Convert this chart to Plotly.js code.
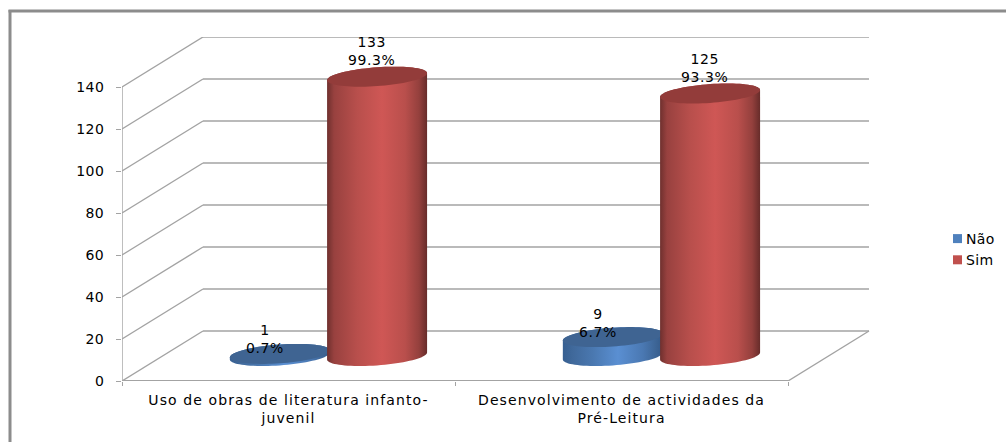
<!DOCTYPE html>
<html><head><meta charset="utf-8">
<script src="https://cdn.plot.ly/plotly-3.0.1.min.js"></script>
<style>
html,body{margin:0;padding:0;background:#fff;overflow:hidden}
.xtick text{letter-spacing:1.1px}
.ytick text{letter-spacing:.4px}
.annotation-text{letter-spacing:.6px}
.legendtext{letter-spacing:.4px}
g.legendpoints path{transform:translate(31.5px,0) scale(.75)}
</style>
</head><body><div id="chart" style="width:1006px;height:442px"></div>
<script>
// Data
const categories = ["Uso de obras de literatura infanto-<br>juvenil", "Desenvolvimento de actividades da<br>Pré-Leitura"];
const naoValues = [1, 9];
const simValues = [133, 125];
const naoPct = ["0.7%", "6.7%"];
const simPct = ["99.3%", "93.3%"];
const yTicks = [0, 20, 40, 60, 80, 100, 120, 140];

// Layout of the faux-3D box, in pixels
const W = 1006, H = 442, L = 122, R = 136, T = 37, B = 61;
const catPx = 333, valPx = 2.1, depthPxX = 81, depthPxY = 50;
const plotW = W - L - R, plotH = H - T - B;
const ux = 1 / catPx, uy = 1 / valPx;
const dX = depthPxX * ux, dY = depthPxY * uy;
const baseY = 25 * uy;                       // cylinders stand mid-way in the floor depth
const GRID = "#a3a3a3", FRAME = "#8c8c8c";
const px = v => (v - L) / plotW, py = v => 1 - (v - T) / plotH;

// Walls, floor and frame
const shapes = [];
const seg = (x0, y0, x1, y1, color, width) => ({type: "line", layer: "below", xref: "x", yref: "y", x0, y0, x1, y1, line: {color, width}});
yTicks.forEach(v => {
  shapes.push(seg(0, v, dX, v + dY, GRID, 1.4));
  shapes.push(seg(dX, v + dY, categories.length + dX, v + dY, GRID, 1.4));
});
shapes.push(seg(0, 0, 0, yTicks[yTicks.length - 1], GRID, 1.4));
shapes.push(seg(0, 0, categories.length, 0, GRID, 1.8));
shapes.push(seg(categories.length, 0, categories.length + dX, dY, GRID, 1.4));
shapes.push({type: "line", xref: "paper", yref: "paper", x0: px(8.5), x1: px(W), y0: py(11), y1: py(11), line: {color: FRAME, width: 3}});
shapes.push({type: "line", xref: "paper", yref: "paper", x0: px(10), x1: px(10), y0: py(10), y1: py(H), line: {color: FRAME, width: 3}});

// Cylinder geometry
const rx = 50 * ux, tiltY = 3.5 * uy, ry = 9.4 * uy;
function rim(cx, cy, from, to, n) {
  const xs = [], ys = [];
  for (let i = 0; i <= n; i++) {
    const t = from + (to - from) * i / n;
    xs.push(cx + rx * Math.cos(t));
    ys.push(cy + tiltY * Math.cos(t) + ry * Math.sin(t));
  }
  return [xs, ys];
}
function cylinder(cx, value, scale, topColor) {
  const top = baseY + value;
  const [bx, by] = rim(cx, baseY, Math.PI, 2 * Math.PI, 40);
  const [ux2, uy2] = rim(cx, top, 0, Math.PI, 40);
  const [tx, ty] = rim(cx, top, 0, 2 * Math.PI, 80);
  return [
    {type: "scatter", mode: "none", x: bx.concat(ux2), y: by.concat(uy2), fill: "toself",
     fillgradient: {type: "horizontal", colorscale: scale}, showlegend: false, hoverinfo: "skip"},
    {type: "scatter", mode: "none", x: tx, y: ty, fill: "toself", fillcolor: topColor, showlegend: false, hoverinfo: "skip"}
  ];
}
const redScale = [[0, "#6f302e"], [0.07, "#98413f"], [0.3, "#b84f4c"], [0.55, "#cf5755"], [0.78, "#b94f4c"], [0.92, "#94403d"], [1, "#672c2a"]];
const blueScale = [[0, "#365f91"], [0.1, "#40699b"], [0.3, "#4a78b0"], [0.55, "#5a8fd2"], [0.8, "#4a78b2"], [0.93, "#3d6596"], [1, "#335a8a"]];

const naoX = categories.map((c, i) => i + 0.5 - 0.026);
const simX = categories.map((c, i) => i + 0.5 + 0.266);

const data = [
  {type: "bar", name: "Não", legendgroup: "n", x: naoX, y: naoValues, base: naoValues.map(() => baseY), width: 0.27, marker: {color: "#4f81bd"}, hoverinfo: "skip"},
  {type: "bar", name: "Sim", legendgroup: "s", x: simX, y: simValues, base: simValues.map(() => baseY), width: 0.27, marker: {color: "#c0504d"}, hoverinfo: "skip"}
];
naoValues.forEach((v, i) => data.push(...cylinder(naoX[i], v, blueScale, "#3f6492")));
simValues.forEach((v, i) => data.push(...cylinder(simX[i], v, redScale, "#933c3a")));

// Data labels
const font = {family: "DejaVu Sans, Verdana, sans-serif", size: 14, color: "#000"};
const annotations = [];
naoValues.forEach((v, i) => annotations.push({xref: "x", yref: "y", x: naoX[i], y: baseY + v, text: v + "<br>" + naoPct[i], showarrow: false, xshift: -15, yshift: 14.5, font, align: "center"}));
simValues.forEach((v, i) => annotations.push({xref: "x", yref: "y", x: simX[i], y: baseY + v, text: v + "<br>" + simPct[i], showarrow: false, xshift: -6, yshift: 26, font, align: "center"}));

const layout = {
  width: W, height: H, autosize: false,
  margin: {l: L, r: R, t: T, b: B, pad: 0, autoexpand: false},
  paper_bgcolor: "#fff", plot_bgcolor: "rgba(0,0,0,0)",
  barmode: "overlay", font, shapes, annotations,
  showlegend: true,
  legend: {x: px(926), y: py(223), xanchor: "left", yanchor: "top", bgcolor: "rgba(0,0,0,0)", font, tracegroupgap: 15.5, traceorder: "normal"},
  xaxis: {
    range: [0, plotW / catPx], showgrid: false, zeroline: false, showline: false, fixedrange: true,
    tickmode: "array", tickvals: categories.map((c, i) => i + 0.5), ticktext: categories, ticks: "", tickangle: 0,
    ticklabelstandoff: 9, tickfont: font,
    minor: {tickmode: "array", tickvals: categories.map((c, i) => i).concat(categories.length), ticks: "outside", ticklen: 4, tickwidth: 1.4, tickcolor: GRID, showgrid: false}
  },
  yaxis: {
    range: [0, plotH / valPx], showgrid: false, zeroline: false, showline: false, fixedrange: true,
    tickmode: "array", tickvals: yTicks, ticks: "outside", ticklen: 5, tickwidth: 1.4, tickcolor: GRID,
    ticklabelstandoff: 9, tickfont: font
  }
};
Plotly.newPlot("chart", data, layout, {displayModeBar: false, responsive: false});
</script></body></html>
